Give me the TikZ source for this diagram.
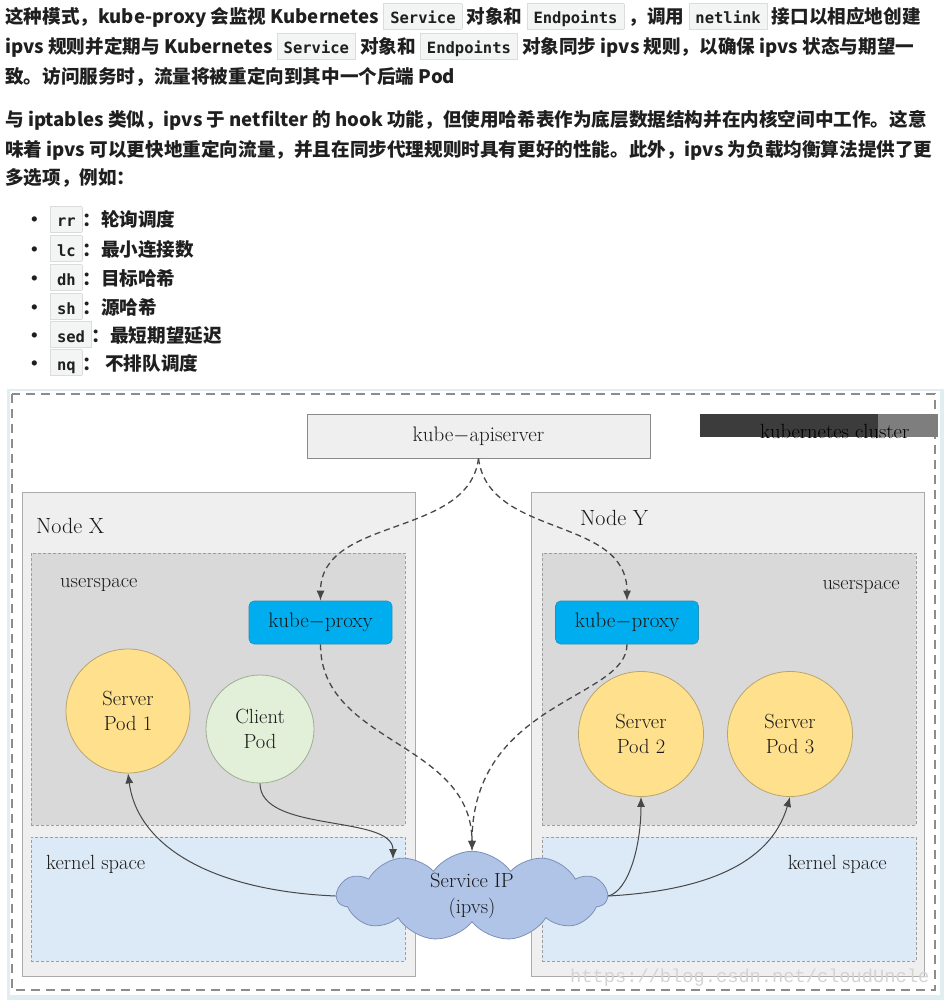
\documentclass[tikz,border=0pt]{standalone}
\usepackage{fontspec}
\usepackage{tikz}
\usetikzlibrary{calc, positioning, arrows, arrows.meta, shapes.geometric, shapes.symbols}

\newfontfamily\cjk{Noto Sans CJK SC}
\newfontfamily\codefont{DejaVu Sans Mono}
\newfontfamily\wmfont{Liberation Mono}

\definecolor{codefill}{HTML}{F3F4F4}
\definecolor{codeframe}{HTML}{DCDCDC}
\definecolor{edgecyan}{HTML}{E1EEF1}
\definecolor{frameline}{HTML}{8C8C8C}
\definecolor{nodebg}{HTML}{EFEFEF}
\definecolor{nodeline}{HTML}{ABABAB}
\definecolor{userbg}{HTML}{D9D9D9}
\definecolor{spaceline}{HTML}{9E9E9E}
\definecolor{kernelbg}{HTML}{DCE9F6}
\definecolor{proxyblue}{HTML}{00AEEF}
\definecolor{proxyline}{HTML}{2A8DB8}
\definecolor{podyellow}{HTML}{FFE08C}
\definecolor{podyline}{HTML}{B9A46E}
\definecolor{podgreen}{HTML}{E2EFD9}
\definecolor{podgline}{HTML}{9EAE92}
\definecolor{cloudblue}{HTML}{B0C4E8}
\definecolor{cloudline}{HTML}{7D90B6}
\definecolor{apiline}{HTML}{8A8A8A}
\definecolor{arrowgray}{HTML}{474747}
\definecolor{bardark}{HTML}{3C3C3C}
\definecolor{barlight}{HTML}{7E7E7E}
\definecolor{wmgray}{HTML}{D4D4D4}

% inline code box
\newcommand\code[1]{{\setlength\fboxsep{0pt}\setlength\fboxrule{0.8pt}%
  \fcolorbox{codeframe}{codefill}{\hspace{6pt}\rule[-5pt]{0pt}{25pt}{\codefont\fontsize{15.5}{15.5}\selectfont #1}\hspace{6pt}}}}

\tikzset{
  para/.style={anchor=base west, inner sep=0pt, text=black!88,
    font=\cjk\bfseries\fontsize{18.6}{18.6}\selectfont},
  plain/.style={inner sep=0pt, text=black!90, font=\fontsize{20.5}{20.5}\selectfont},
  apibox/.style={rectangle, fill=nodebg, draw=apiline, line width=0.8pt, text=black!90,
    minimum width=343pt, minimum height=44pt, font=\fontsize{21}{21}\selectfont},
  hostbox/.style={rectangle, anchor=north west, fill=nodebg, draw=nodeline,
    line width=0.8pt, minimum width=393pt, minimum height=484pt},
  userbox/.style={rectangle, anchor=north west, fill=userbg, draw=spaceline,
    line width=0.8pt, dash pattern=on 3pt off 2pt, minimum width=374pt, minimum height=272pt},
  kernelbox/.style={userbox, fill=kernelbg, minimum height=124pt},
  proxy/.style={rectangle, rounded corners=5pt, fill=proxyblue, draw=proxyline,
    line width=0.6pt, minimum width=143pt, minimum height=43pt, text=black!90,
    font=\fontsize{21}{21}\selectfont},
  pod/.style={circle, line width=0.8pt, align=center, inner sep=0pt, text=black!90,
    font=\fontsize{20.5}{25}\selectfont},
  svccloud/.style={cloud, cloud puffs=11, cloud puff arc=110, cloud ignores aspect,
    minimum width=270pt, minimum height=76pt, fill=cloudblue, draw=cloudline, text=black!90,
    line width=0.8pt, align=center, font=\fontsize{20.5}{26}\selectfont},
  watch/.style={arrowgray, line width=1.3pt, dash pattern=on 6pt off 4pt,
    -{Latex[length=10pt, width=8pt]}},
  flow/.style={arrowgray, line width=1pt, -{Latex[length=10pt, width=8pt]}}
}

\begin{document}
\begin{tikzpicture}[x=1pt, y=-1pt]
\useasboundingbox (0,0) rectangle (944,1000);
\fill[white] (0,0) rectangle (944,1000);

% text above the diagram
\node[para] (p1a) at (5,24) {这种模式，kube-proxy 会监视 Kubernetes \code{Service} 对象和 \code{Endpoints} ，调用 \code{netlink} 接口以相应地创建};
\node[para] (p1b) at (5,54) {ipvs 规则并定期与 Kubernetes \code{Service} 对象和 \code{Endpoints} 对象同步 ipvs 规则，以确保 ipvs 状态与期望一};
\node[para] (p1c) at (5,84) {致。访问服务时，流量将被重定向到其中一个后端 Pod};
\node[para] (p2a) at (5,127) {与 iptables 类似，ipvs 于 netfilter 的 hook 功能，但使用哈希表作为底层数据结构并在内核空间中工作。这意};
\node[para] (p2b) at (5,157) {味着 ipvs 可以更快地重定向流量，并且在同步代理规则时具有更好的性能。此外，ipvs 为负载均衡算法提供了更};
\node[para] (p2c) at (5,185) {多选项，例如：};

% scheduler list
\node[para] (opt1) at (25,227) {\makebox[25pt][l]{•}\code{rr}：轮询调度};
\node[para] (opt2) at (25,256) {\makebox[25pt][l]{•}\code{lc}：最小连接数};
\node[para] (opt3) at (25,285) {\makebox[25pt][l]{•}\code{dh}：目标哈希};
\node[para] (opt4) at (25,314) {\makebox[25pt][l]{•}\code{sh}：源哈希};
\node[para] (opt5) at (25,342) {\makebox[25pt][l]{•}\code{sed}：最短期望延迟};
\node[para] (opt6) at (25,370) {\makebox[25pt][l]{•}\code{nq}： 不排队调度};

% cluster frame
\fill[edgecyan] (7,389) rectangle (944,1000);
\fill[white] (10,391) rectangle (940,995);
\draw[frameline, line width=1.6pt, dash pattern=on 9pt off 6pt] (12,394) rectangle (935,990);
\fill[bardark] (700,414) rectangle (878,437);
\fill[barlight] (878,414) rectangle (938,437);
\node[plain, anchor=base west, text=black] (clusterlbl) at (760,438) {kubernetes cluster};

\node[apibox] (api) at (478.5,436) {kube$-$apiserver};

% Node X
\node[hostbox] (nodex) at (22,492) {};
\node[userbox] (userx) at (31,553) {};
\node[kernelbox] (kernelx) at (31,837) {};
\node[plain, anchor=west, font=\fontsize{22}{22}\selectfont] (nodexlbl) at (36,526) {Node X};
\node[plain, anchor=base west] (userxlbl) at (60,587) {userspace};
\node[plain, anchor=base west] (kernelxlbl) at (46,869) {kernel space};
\node[proxy] (kpx) at (320.5,622.5) {kube$-$proxy};
\node[pod, fill=podyellow, draw=podyline, minimum size=124pt] (sp1) at (128,711) {Server\\Pod 1};
\node[pod, fill=podgreen, draw=podgline, minimum size=108pt] (cp) at (260,729) {Client\\Pod};

% Node Y
\node[hostbox] (nodey) at (531,492) {};
\node[userbox] (usery) at (542,553) {};
\node[kernelbox] (kernely) at (542,837) {};
\node[plain, anchor=west, font=\fontsize{22}{22}\selectfont] (nodeylbl) at (580,518) {Node Y};
\node[plain, anchor=base east] (userylbl) at (900,589) {userspace};
\node[plain, anchor=base east] (kernelylbl) at (887,869) {kernel space};
\node[proxy] (kpy) at (627,622.5) {kube$-$proxy};
\node[pod, fill=podyellow, draw=podyline, minimum size=125pt] (sp2) at (641,734) {Server\\Pod 2};
\node[pod, fill=podyellow, draw=podyline, minimum size=125pt] (sp3) at (790,734) {Server\\Pod 3};

% service IP
\node[svccloud] (svc) at (472,896) {Service IP\\(ipvs)};

% watch and traffic
\draw[watch] (api.south) .. controls +(-10,80) and +(0,-85) .. (kpx.north);
\draw[watch] (api.south) .. controls +(10,80) and +(0,-85) .. (kpy.north);
\draw[watch] (kpx.south) .. controls +(0,100) and +(0,-110) .. (svc.north);
\draw[watch] (kpy.south) .. controls +(0,55) and +(0,-150) .. (svc.north);
\draw[flow] (cp.south) .. controls +(0,50) and +(0,-45) .. (svc.155);
\draw[flow] (svc.west) .. controls +(-120,-5) and +(10,75) .. (sp1.south);
\draw[flow] (svc.east) .. controls +(20,-5) and +(0,50) .. (sp2.south);
\draw[flow] (svc.east) .. controls +(90,-5) and +(-20,70) .. (sp3.south);

\node[anchor=base west, inner sep=0pt, text=wmgray, font=\wmfont\fontsize{18.7}{18.7}\selectfont] (wm) at (570,982) {https://blog.csdn.net/cloudUncle};
\end{tikzpicture}
\end{document}
